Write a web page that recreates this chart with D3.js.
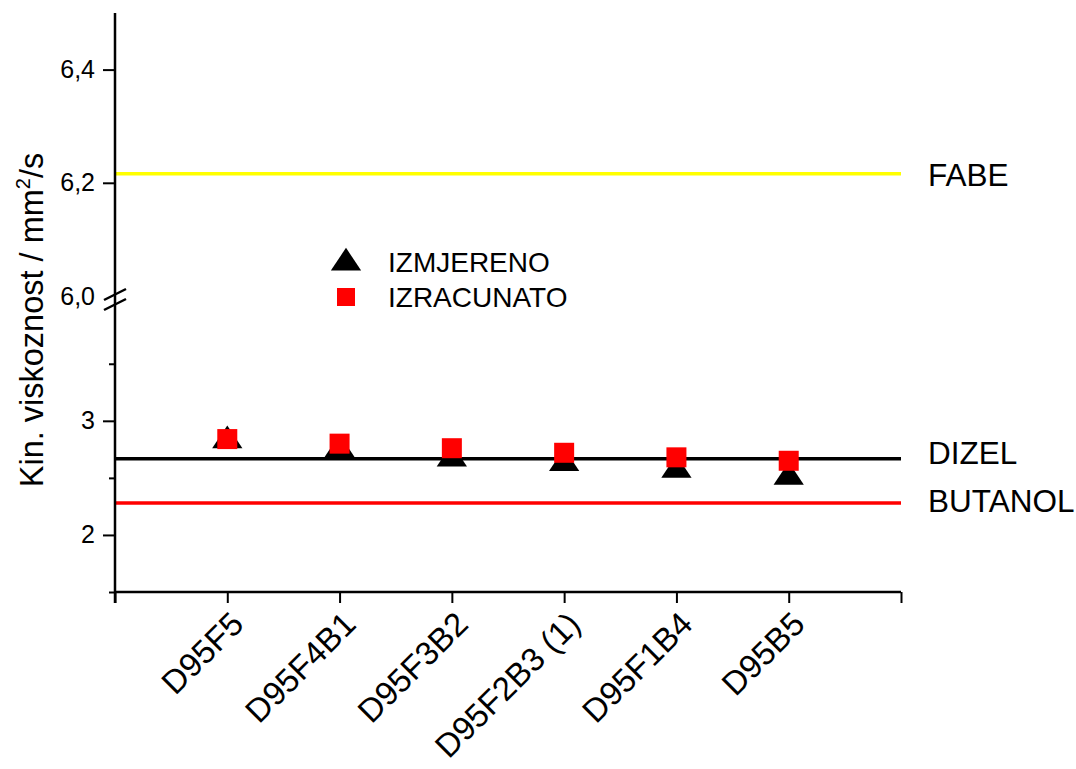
<!DOCTYPE html>
<html>
<head>
<meta charset="utf-8">
<script src="https://cdn.jsdelivr.net/npm/d3@7/dist/d3.min.js"></script>
<style>
  html, body { margin: 0; padding: 0; background: #fff; }
  svg { display: block; font-family: "Liberation Sans", Arial, sans-serif; }
</style>
</head>
<body>
<svg id="chart" width="1076" height="769"></svg>
<script>
// ---- data ----
const categories = ["D95F5", "D95F4B1", "D95F3B2", "D95F2B3 (1)", "D95F1B4", "D95B5"];
const measured   = [2.86, 2.78, 2.70, 2.66, 2.60, 2.54];   // IZMJERENO (triangles)
const calculated = [2.84, 2.80, 2.76, 2.72, 2.68, 2.65];   // IZRACUNATO (squares)
const refNames   = ["FABE", "DIZEL", "BUTANOL"];
const refValues  = [6.216, 2.667, 2.28];
const refColors  = ["#ffff00", "#000000", "#ff0000"];
const lowTicks   = [2, 3];
const lowMinor   = [1.5, 2.5, 3.5];
const highTicks  = [6.0, 6.2, 6.4];
const legendNames = ["IZMJERENO", "IZRACUNATO"];

(function () {
// ---- layout ----
const svg = d3.select("#chart");
const mLeft = 115, mRight = 901, mBottom = 592, mTop = 13;

const x = d3.scaleLinear().domain([0, categories.length + 1]).range([mLeft, mRight]);
const yLow  = d3.scaleLinear().domain([1.5, 4.05]).range([mBottom, 301]);
const yHigh = d3.scaleLinear().domain([6.0, 6.5]).range([296, mTop]);
const y = v => v >= 5 ? yHigh(v) : yLow(v);
const fmt = v => d3.format(".1f")(v).replace(".", ",");

// reference lines
refValues.forEach((v, i) => {
  svg.append("line")
    .attr("x1", mLeft).attr("x2", mRight)
    .attr("y1", y(v)).attr("y2", y(v))
    .attr("stroke", refColors[i]).attr("stroke-width", 3.5);
});
const refLabelDy = [1, -6, -2];
refNames.forEach((n, i) => {
  svg.append("text")
    .attr("x", 928).attr("y", y(refValues[i]) + refLabelDy[i])
    .attr("dominant-baseline", "central")
    .attr("font-size", 31.5).attr("fill", "#000")
    .text(n);
});

// x axis
const xAxis = d3.axisBottom(x).tickValues(d3.range(0, categories.length + 2))
  .tickSize(11).tickFormat("");
const gx = svg.append("g").attr("transform", `translate(0,${mBottom})`).call(xAxis);
gx.select(".domain").attr("stroke-width", 2.5).attr("d", `M${mLeft},0H${mRight}`);
gx.selectAll(".tick line").attr("stroke-width", 2);

// x labels
categories.forEach((c, i) => {
  svg.append("text")
    .attr("transform", `translate(${x(i + 1) + 10},${mBottom + 26}) rotate(-45)`)
    .attr("text-anchor", "end")
    .attr("dominant-baseline", "central")
    .attr("font-size", 33)
    .text(c);
});

// y axis line
svg.append("line").attr("x1", mLeft).attr("x2", mLeft)
  .attr("y1", mTop).attr("y2", mBottom + 11)
  .attr("stroke", "#000").attr("stroke-width", 2.5);

// lower segment ticks
const gLow = svg.append("g").attr("transform", `translate(${mLeft},0)`)
  .call(d3.axisLeft(yLow).tickValues(lowTicks).tickSize(12).tickPadding(8).tickFormat(d3.format("d")));
gLow.select(".domain").remove();
gLow.selectAll(".tick line").attr("stroke-width", 2);
gLow.selectAll("text").attr("font-size", 25).attr("font-family", "Liberation Sans, Arial, sans-serif");
const gLowM = svg.append("g").attr("transform", `translate(${mLeft},0)`)
  .call(d3.axisLeft(yLow).tickValues(lowMinor).tickSize(6).tickFormat(""));
gLowM.select(".domain").remove();
gLowM.selectAll(".tick line").attr("stroke-width", 2);

// upper segment ticks
const gHigh = svg.append("g").attr("transform", `translate(${mLeft},0)`)
  .call(d3.axisLeft(yHigh).tickValues(highTicks).tickSize(12).tickPadding(8).tickFormat(fmt));
gHigh.select(".domain").remove();
gHigh.selectAll(".tick line").attr("stroke-width", 2)
  .attr("display", d => d === 6.0 ? "none" : null);
gHigh.selectAll("text").attr("font-size", 25).attr("font-family", "Liberation Sans, Arial, sans-serif");

// break marks
[293, 303].forEach(yy => {
  svg.append("line")
    .attr("x1", mLeft - 11).attr("y1", yy + 7)
    .attr("x2", mLeft + 11).attr("y2", yy - 4)
    .attr("stroke", "#000").attr("stroke-width", 2.5);
});

// y title
svg.append("text")
  .attr("transform", `translate(43,320) rotate(-90)`)
  .attr("text-anchor", "middle")
  .attr("font-size", 32.5)
  .call(t => {
    t.append("tspan").text("Kin. viskoznost / mm");
    t.append("tspan").attr("font-size", 20).attr("dy", -13).text("2");
    t.append("tspan").attr("dy", 13).text("/s");
  });

// markers (triangle shifted so its bounding box is centred on the value)
const tri = d3.symbol().type(d3.symbolTriangle).size(300);
svg.append("g").selectAll("path").data(measured).join("path")
  .attr("d", tri)
  .attr("transform", (d, i) => `translate(${x(i + 1)},${y(d) + 3.8}) scale(1.15,1)`)
  .attr("fill", "#000");
svg.append("g").selectAll("rect").data(calculated).join("rect")
  .attr("x", (d, i) => x(i + 1) - 10).attr("y", d => y(d) - 10)
  .attr("width", 20).attr("height", 20)
  .attr("fill", "#ff0000");

// legend
const lg = svg.append("g");
lg.append("path").attr("d", tri).attr("transform", "translate(346,263) scale(1.15,1)").attr("fill", "#000");
lg.append("rect").attr("x", 337).attr("y", 288).attr("width", 18).attr("height", 18).attr("fill", "#ff0000");
legendNames.forEach((n, i) => {
  lg.append("text").attr("x", 388).attr("y", 272 + i * 35)
    .attr("font-size", 28).text(n);
});
})();
</script>
</body>
</html>
